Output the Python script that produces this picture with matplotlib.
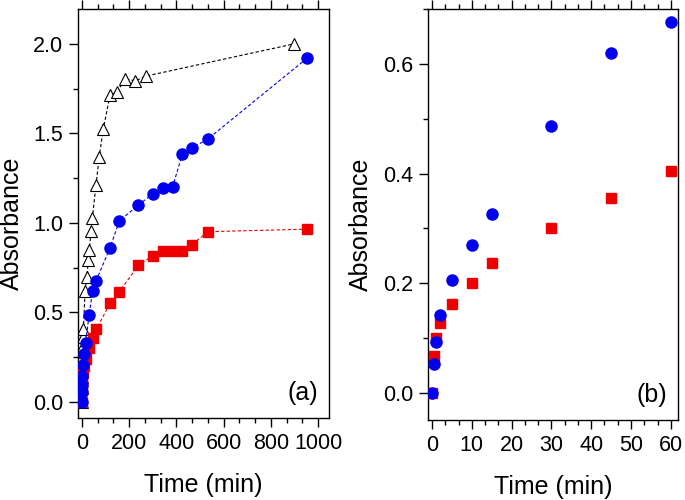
import matplotlib
matplotlib.use("Agg")
import matplotlib.pyplot as plt
from matplotlib.ticker import MultipleLocator, AutoMinorLocator

plt.rcParams['font.family'] = ['Liberation Sans', 'DejaVu Sans']

# Panel (a) data
t_tri = [0, 0.5, 1, 2, 3, 4, 5, 6, 13, 20, 27, 31, 38, 44, 59, 73, 90, 119, 150, 181, 225, 270, 898]
a_tri = [0.0, 0.08, 0.14, 0.20, 0.26, 0.31, 0.36, 0.41, 0.62, 0.70, 0.79, 0.85, 0.955, 1.03, 1.21, 1.37, 1.525, 1.715, 1.73, 1.806, 1.793, 1.82, 2.0]

t_blue_a = [0, 0.5, 1, 2, 5, 10, 15, 30, 45, 60, 119, 158, 239, 299, 345, 384, 425, 465, 535, 953]
a_blue_a = [0.0, 0.053, 0.093, 0.142, 0.206, 0.27, 0.327, 0.487, 0.62, 0.677,
            0.862, 1.011, 1.10, 1.162, 1.197, 1.203, 1.384, 1.417, 1.471, 1.92]

t_red_a = [0, 0.5, 1, 2, 5, 10, 15, 30, 45, 60, 119, 158, 239, 299, 345, 384, 424, 465, 535, 953]
a_red_a = [0.0, 0.068, 0.10, 0.128, 0.162, 0.20, 0.237, 0.30, 0.356, 0.405,
           0.551, 0.616, 0.763, 0.817, 0.844, 0.844, 0.844, 0.879, 0.951, 0.965]

# Panel (b) data
t_b = [0, 0.5, 1, 2, 5, 10, 15, 30, 45, 60]
a_blue_b = [0.0, 0.053, 0.093, 0.142, 0.206, 0.27, 0.327, 0.487, 0.62, 0.677]
a_red_b = [0.0, 0.068, 0.10, 0.128, 0.162, 0.20, 0.237, 0.30, 0.356, 0.405]

BLUE = '#0000ee'
RED = '#ee0000'

fig = plt.figure(figsize=(6.85, 5.0), dpi=100)
axa = fig.add_axes([78/685, 82/500, 251/685, 409/500])
axb = fig.add_axes([428/685, 80/500, 250/685, 411/500])

# Panel (a)
axa.plot(t_tri, a_tri, linestyle=(0, (3, 2)), color='black', lw=0.8,
         marker='^', markersize=8.5, markerfacecolor='white', markeredgecolor='black',
         markeredgewidth=0.8, zorder=2)
axa.plot(t_red_a, a_red_a, linestyle=(0, (3, 2)), color=RED, lw=0.8,
         marker='s', markersize=7, markerfacecolor=RED, markeredgecolor=RED, zorder=3)
axa.plot(t_blue_a, a_blue_a, linestyle=(0, (3, 2)), color=BLUE, lw=0.8,
         marker='o', markersize=8, markerfacecolor=BLUE, markeredgecolor=BLUE, zorder=4)
axa.set_xlim(-17, 1046)
axa.set_ylim(-0.09, 2.195)
axa.xaxis.set_major_locator(MultipleLocator(200))
axa.xaxis.set_minor_locator(AutoMinorLocator(3))
axa.yaxis.set_major_locator(MultipleLocator(0.5))
axa.yaxis.set_minor_locator(AutoMinorLocator(2))
axa.yaxis.set_major_formatter(plt.FormatStrFormatter('%.1f'))
axa.set_xlabel('Time (min)', fontsize=18)
axa.set_ylabel('Absorbance', fontsize=18)
axa.yaxis.set_label_coords(-0.215, 0.477)
axa.xaxis.set_label_coords(0.5, -0.135)
axa.text(0.956, 0.061, '(a)', transform=axa.transAxes, ha='right', va='center', fontsize=18)

# Panel (b)
axb.plot(t_b, a_red_b, linestyle='none', marker='s', markersize=7,
         markerfacecolor=RED, markeredgecolor=RED, zorder=3)
axb.plot(t_b, a_blue_b, linestyle='none', marker='o', markersize=8,
         markerfacecolor=BLUE, markeredgecolor=BLUE, zorder=4)
axb.set_xlim(-1, 61.8)
axb.set_ylim(-0.049, 0.70)
axb.xaxis.set_major_locator(MultipleLocator(10))
axb.xaxis.set_minor_locator(AutoMinorLocator(3))
axb.yaxis.set_major_locator(MultipleLocator(0.2))
axb.yaxis.set_minor_locator(AutoMinorLocator(2))
axb.yaxis.set_major_formatter(plt.FormatStrFormatter('%.1f'))
axb.set_xlabel('Time (min)', fontsize=18)
axb.set_ylabel('Absorbance', fontsize=18)
axb.yaxis.set_label_coords(-0.22, 0.477)
axb.xaxis.set_label_coords(0.5, -0.135)
axb.text(0.956, 0.061, '(b)', transform=axb.transAxes, ha='right', va='center', fontsize=18)

for ax in (axa, axb):
    for s in ax.spines.values():
        s.set_linewidth(1.0)
    ax.tick_params(which='both', direction='out', top=True, right=False,
                   labelsize=15.5, width=1.0, pad=4)
    ax.tick_params(which='major', length=6.5)
    ax.tick_params(which='minor', length=3.5)

fig.savefig('out.png', dpi=100)
